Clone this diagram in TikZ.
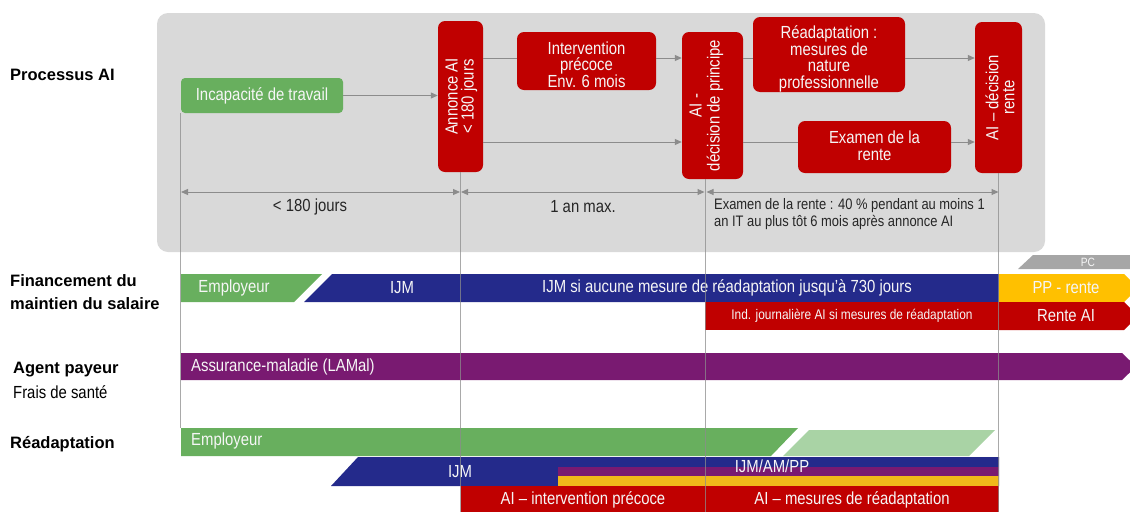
\documentclass[tikz,border=0pt]{standalone}
\usepackage{fontspec}
\setmainfont{Liberation Sans}[FakeStretch=0.85]
\newfontfamily\lblfont{Liberation Sans}
\usetikzlibrary{arrows.meta}
\definecolor{aired}{HTML}{C00000}
\definecolor{aigreen}{HTML}{68AF5E}
\definecolor{ailgreen}{HTML}{A9D3A5}
\definecolor{aiblue}{HTML}{242A8B}
\definecolor{aipurple}{HTML}{791A71}
\definecolor{aiyellow}{HTML}{FFC000}
\definecolor{aistrip}{HTML}{F0B81A}
\definecolor{aibg}{HTML}{D9D9D9}
\definecolor{ailine}{HTML}{8C8C8C}
\definecolor{aipc}{HTML}{A6A6A6}
\definecolor{aitext}{HTML}{262626}
\definecolor{aiwhite}{HTML}{F6F6F6}
\begin{document}
\begin{tikzpicture}[x=1pt,y=-1pt,
  box/.style={fill=aired, rounded corners=7pt, inner sep=0pt, draw=none,
    text=aiwhite, align=center, font=\fontsize{17.5}{16.5}\selectfont},
  btx/.style={text=aiwhite, align=center, inner sep=0pt,
    font=\fontsize{17.5}{16.5}\selectfont},
  rtxt/.style={text=aiwhite, align=center, inner sep=0pt, rotate=90,
    font=\fontsize{17.5}{16}\selectfont},
  bt/.style={text=aiwhite, inner sep=0pt, font=\fontsize{17.5}{17}\selectfont},
  lbl/.style={text=black, inner sep=0pt, anchor=west, align=left,
    font=\lblfont\bfseries\fontsize{16.5}{23}\selectfont},
  gtxt/.style={text=aitext, inner sep=0pt, font=\fontsize{17.5}{17}\selectfont},
  flow/.style={draw=ailine, line width=1pt},
  arr/.style={flow, -{Triangle[length=7pt,width=6pt]}},
  dim/.style={flow, {Triangle[length=7pt,width=6pt]}-{Triangle[length=7pt,width=6pt]}},
  vline/.style={draw=ailine, line width=1pt, opacity=0.75}]
\useasboundingbox (0,0) rectangle (1130,512);

% background of the process
\fill[aibg, rounded corners=11pt] (157,13) rectangle (1045,252);

% helper coordinates
\coordinate (yup) at (0,58);
\coordinate (ylow) at (0,142);
\coordinate (ydim) at (0,192);
\coordinate (yread) at (0,428);
\coordinate (ybot) at (0,512);

% process boxes
\node[box, fill=aigreen, rounded corners=4pt, minimum width=162pt, minimum height=35pt] (inc) at (262,95.5) {Incapacité de travail};
\node[box, minimum width=45pt, minimum height=151pt] (annonce) at (460.5,96.5) {};
\node[rtxt] (annoncet) at ([xshift=1pt]annonce.center) {Annonce AI\\< 180 jours};
\node[box, minimum width=139pt, minimum height=58pt] (interv) at (586.5,61) {};
\node[btx] (intervt) at ([yshift=-3.5pt]interv.center) {Intervention\\précoce\\Env. 6 mois};
\node[box, minimum width=61pt, minimum height=147pt] (princ) at (712.5,105.5) {};
\node[rtxt, font=\fontsize{17.5}{18}\selectfont] (princt) at ([xshift=-6pt]princ.center) {AI -\\décision de principe};
\node[box, minimum width=152pt, minimum height=75pt] (readapt) at (829,54.5) {};
\node[btx] (readaptt) at ([yshift=-4.5pt]readapt.center) {Réadaptation :\\mesures de\\nature\\professionnelle};
\node[box, minimum width=153pt, minimum height=52pt] (examen) at (874.5,147) {};
\node[btx] (exament) at ([yshift=1.5pt]examen.center) {Examen de la\\rente};
\node[box, minimum width=47pt, minimum height=151pt] (rentedec) at (998.5,97.5) {};
\node[rtxt] (rentedect) at ([xshift=1.5pt]rentedec.center) {AI – décision\\rente};

% process connectors
\draw[arr] (inc.east) -- (inc.east -| annonce.west);
\draw[flow] (annonce.east |- yup) -- (interv.west |- yup);
\draw[arr] (interv.east |- yup) -- (princ.west |- yup);
\draw[arr] (annonce.east |- ylow) -- (princ.west |- ylow);
\draw[flow] (princ.east |- yup) -- (readapt.west |- yup);
\draw[arr] (readapt.east |- yup) -- (rentedec.west |- yup);
\draw[flow] (princ.east |- ylow) -- (examen.west |- ylow);
\draw[arr] (examen.east |- ylow) -- (rentedec.west |- ylow);

% time markers
\coordinate (t0) at (181,0);
\coordinate (t1) at (460.5,0);
\coordinate (t2) at (705,0);
\coordinate (t3) at (998.5,0);
\draw[dim] (t0 |- ydim) -- ([xshift=-0.5pt]t1 |- ydim);
\draw[dim] ([xshift=0.5pt]t1 |- ydim) -- ([xshift=-0.5pt]t2 |- ydim);
\draw[dim] ([xshift=1.5pt]t2 |- ydim) -- (t3 |- ydim);
\node[gtxt] (d1) at (310,207) {< 180 jours};
\node[gtxt] (d2) at (583,207) {1 an max.};
\node[gtxt, anchor=north west, align=left, font=\fontsize{15.2}{17}\selectfont] (d3) at (714,198.5) {Examen de la rente : 40 \% pendant au moins 1\\an IT au plus tôt 6 mois après annonce AI};

% row labels
\node[lbl] (lproc) at (10,75) {Processus AI};
\node[lbl] (lfin) at (10,292.5) {Financement du\\maintien du salaire};
\node[lbl] (lagent) at (13,370) {Agent payeur};
\node[gtxt, anchor=west, text=black] (lfrais) at (13,392) {Frais de santé};
\node[lbl] (lread) at (10,444) {Réadaptation};

% financement du maintien du salaire
\fill[aigreen] (181,274) -- (322,274) -- (294,302) -- (181,302) -- cycle;
\fill[aiblue] (332,274) -- (999,274) -- (999,302) -- (304,302) -- cycle;
\fill[aiyellow] (999,274) -- (1124,274) -- (1138,288) -- (1124,302) -- (999,302) -- cycle;
\fill[aipc] (1018,269) -- (1033,255) -- (1130,255) -- (1130,269) -- cycle;
\fill[aired] (705,302) -- (999,302) -- (999,330) -- (705,330) -- cycle;
\fill[aired] (999,302) -- (1124,302) -- (1138,316) -- (1124,330) -- (999,330) -- cycle;
\node[bt] (fin1) at (234,288) {Employeur};
\node[bt] (fin2) at (402,288) {IJM};
\node[bt] (fin3) at (727,288) {IJM si aucune mesure de réadaptation jusqu’à 730 jours};
\node[bt] (fin4) at (1066,288) {PP - rente};
\node[bt, font=\fontsize{12}{12}\selectfont] (fin5) at (1088,262.5) {PC};
\node[bt, font=\fontsize{14}{14}\selectfont] (fin6) at (852,316) {Ind. journalière AI si mesures de réadaptation};
\node[bt] (fin7) at (1066,316) {Rente AI};

% agent payeur
\fill[aipurple] (181,353) -- (1122,353) -- (1136,366.5) -- (1122,380) -- (181,380) -- cycle;
\node[bt, anchor=west] (lamal) at (191,366.5) {Assurance-maladie (LAMal)};

% readaptation
\fill[aigreen] (181,428) -- (798,428) -- (771,456) -- (181,456) -- cycle;
\fill[ailgreen] (809,430) -- (995,430) -- (969,456) -- (783,456) -- cycle;
\fill[aiblue] (358,457) -- (999,457) -- (999,486) -- (331,486) -- cycle;
\fill[aipurple] (558,467) rectangle (999,476);
\fill[aistrip] (558,476) rectangle (999,486);
\fill[aired] (460.5,486) rectangle (999,512);
\node[bt, anchor=west] (re1) at (191,441) {Employeur};
\node[bt] (re2) at (460,472) {IJM};
\node[bt] (re3) at (772,466) {IJM/AM/PP};
\node[bt] (re4) at (583,500) {AI – intervention précoce};
\node[bt] (re5) at (852,500) {AI – mesures de réadaptation};

% vertical time lines
\draw[vline] (inc.south west) -- (inc.south west |- yread);
\draw[vline] (annonce.south) -- (annonce.south |- ybot);
\draw[vline] (princ.south -| t2) -- (t2 |- ybot);
\draw[vline] (rentedec.south) -- (rentedec.south |- ybot);
\end{tikzpicture}
\end{document}
